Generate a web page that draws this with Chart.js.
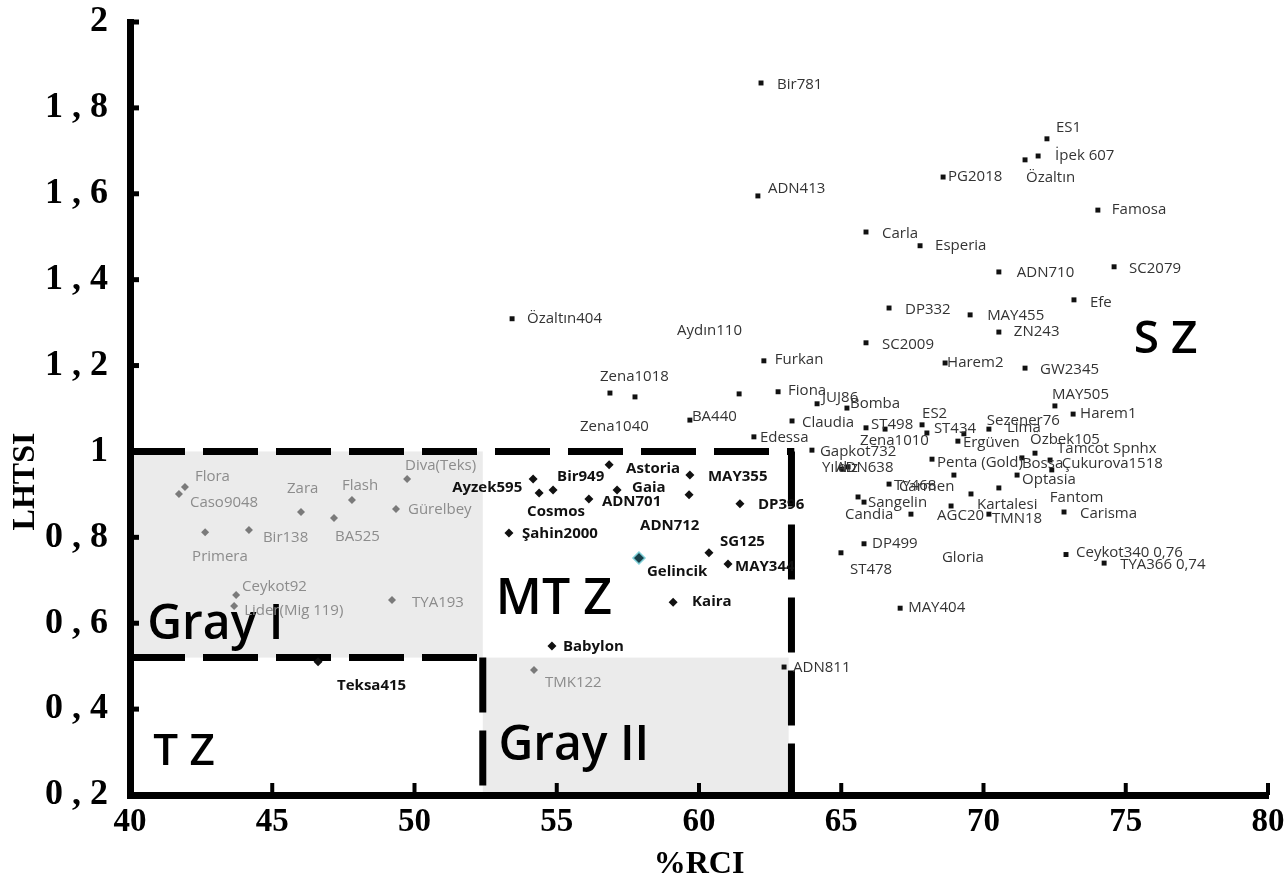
<!DOCTYPE html>
<html>
<head>
<meta charset="utf-8">
<script src="https://cdn.jsdelivr.net/npm/chart.js@4.4.1/dist/chart.umd.min.js"></script>
<style>
  html, body { margin: 0; padding: 0; background: #fff; }
  #wrap { width: 1288px; height: 892px; }
</style>
</head>
<body>
<div id="wrap"><canvas id="chart" width="1288" height="892"></canvas></div>
<script>
// Gray I zone cultivars
const grayNames = ['Flora', 'Caso9048', 'Zara', 'Flash', 'BA525', 'Diva(Teks)', 'Gürelbey', 'Bir138', 'Primera', 'Ceykot92', 'Lider(Mig 119)', 'TYA193', 'TMK122'];
const grayRci   = [41.93, 41.72, 46.01, 47.80, 47.17, 49.74, 49.35, 44.18, 42.64, 43.73, 43.66, 49.21, 54.20];
const grayLhtsi = [0.917, 0.901, 0.859, 0.887, 0.845, 0.936, 0.866, 0.817, 0.812, 0.666, 0.640, 0.654, 0.491];

// MT Z cultivars
const mtzNames = ['Ayzek595', 'Bir949', 'Cosmos', 'Astoria', 'Gaia', 'ADN701', 'MAY355', 'ADN712', 'DP396', 'Şahin2000', 'Gelincik', 'SG125', 'MAY344', 'Kaira', 'Babylon', 'Teksa415'];
const mtzRci   = [54.17, 54.87, 54.38, 56.84, 57.12, 56.13, 59.68, 59.65, 61.44, 53.32, 57.89, 60.35, 61.02, 59.09, 54.83, 46.61];
const mtzLhtsi = [0.936, 0.910, 0.903, 0.969, 0.910, 0.889, 0.945, 0.899, 0.878, 0.810, 0.752, 0.764, 0.738, 0.649, 0.547, 0.510];

// S Z cultivars
const szNames = ['Bir781', 'ADN413', 'ES1', 'İpek 607', 'Özaltın', 'PG2018', 'Famosa', 'Carla', 'Esperia', 'ADN710', 'SC2079', 'Efe', 'DP332', 'MAY455', 'ZN243', 'SC2009', 'Furkan', 'Harem2', 'GW2345', 'Özaltın404', 'Aydın110', 'Zena1018', 'Zena1040', 'BA440', 'Fiona', 'JUJ86', 'Bomba', 'Claudia', 'Edessa', 'Gapkot732', 'ST498', 'Zena1010', 'ES2', 'ST434', 'Sezener76', 'Lima', 'Ergüven', 'Penta (Gold)', 'Carmen', 'TY468', 'ADN638', 'Yıldız', 'Candia', 'Sangelin', 'AGC20', 'Kartalesi', 'TMN18', 'Gloria', 'Optasia', 'Özbek105', 'Tamcot Spnhx', 'Bossa', 'Çukurova1518', 'Fantom', 'Carisma', 'MAY505', 'Harem1', 'Ceykot340 0,76', 'TYA366 0,74', 'DP499', 'ST478', 'MAY404', 'ADN811'];
const szRci   = [62.18, 62.07, 72.23, 71.92, 71.46, 68.58, 74.02, 65.87, 67.77, 70.54, 74.59, 73.18, 66.68, 69.53, 70.54, 65.87, 62.28, 68.65, 71.46, 53.43, 61.41, 56.87, 57.75, 59.68, 62.78, 64.15, 65.20, 63.27, 61.93, 63.97, 65.87, 66.54, 67.84, 68.01, 69.31, 70.19, 69.10, 68.19, 68.96, 66.68, 65.24, 65.03, 65.59, 65.80, 68.86, 69.56, 70.19, 67.45, 71.18, 71.81, 72.34, 71.35, 72.40, 70.54, 72.83, 72.51, 73.15, 72.90, 74.24, 65.80, 64.99, 67.07, 62.99];
const szLhtsi = [1.858, 1.595, 1.728, 1.688, 1.679, 1.639, 1.562, 1.511, 1.479, 1.418, 1.430, 1.353, 1.334, 1.318, 1.278, 1.253, 1.211, 1.206, 1.194, 1.309, 1.134, 1.136, 1.127, 1.073, 1.139, 1.111, 1.101, 1.071, 1.034, 1.003, 1.055, 1.052, 1.062, 1.043, 1.041, 1.052, 1.024, 0.982, 0.945, 0.924, 0.964, 0.959, 0.894, 0.882, 0.873, 0.901, 0.854, 0.854, 0.945, 0.996, 0.980, 0.985, 0.957, 0.915, 0.859, 1.106, 1.087, 0.76, 0.74, 0.785, 0.764, 0.635, 0.498];

// zone boundaries (data units)
const grayOneBox = [40, 52.4, 0.52, 1.0];
const grayTwoBox = [52.4, 63.15, 0.2, 0.52];
const zoneLabels = ['S Z', 'MT Z', 'Gray I', 'T Z', 'Gray II'];
const zoneLabelRci = [76.4, 54.9, 43.0, 41.9, 55.6];
const zoneLabelLhtsi = [1.26, 0.655, 0.595, 0.298, 0.313];

// label nudges in px [dx, dy], default is right of the point
const labelNudge = {
  'Flora': [10, -10], 'Caso9048': [11, 9], 'Zara': [-14, -23], 'Flash': [-10, -14], 'BA525': [1, 19],
  'Diva(Teks)': [-2, -13], 'Gürelbey': [12, 1], 'Bir138': [14, 8], 'Primera': [-13, 25], 'Ceykot92': [6, -8],
  'Lider(Mig 119)': [10, 5], 'TYA193': [20, 3], 'TMK122': [11, 13],
  'Ayzek595': [-81, 9], 'Bir949': [4, -13], 'Cosmos': [-12, 19], 'Astoria': [17, 4], 'Gaia': [15, -2],
  'ADN701': [13, 3], 'MAY355': [18, 2], 'ADN712': [-49, 31], 'DP396': [18, 1], 'Şahin2000': [13, 1],
  'Gelincik': [8, 14], 'SG125': [11, -11], 'MAY344': [7, 3], 'Kaira': [19, 0], 'Babylon': [11, 1], 'Teksa415': [19, 24],
  'Bir781': [16, 2], 'ADN413': [10, -7], 'ES1': [9, -11], 'İpek 607': [17, 0], 'Özaltın': [1, 18], 'PG2018': [5, 0],
  'Famosa': [14, 0], 'Carla': [16, 2], 'Esperia': [15, 0], 'ADN710': [18, 1], 'SC2079': [15, 2], 'Efe': [16, 3],
  'DP332': [16, 2], 'MAY455': [17, 1], 'ZN243': [15, 0], 'SC2009': [16, 2], 'Furkan': [11, -1], 'Harem2': [2, 0],
  'GW2345': [15, 2], 'Özaltın404': [15, 0], 'Aydın110': [-62, -63], 'Zena1018': [-10, -16], 'Zena1040': [-55, 30],
  'BA440': [2, -3], 'Fiona': [10, -1], 'JUJ86': [5, -6], 'Bomba': [3, -4], 'Claudia': [10, 2], 'Edessa': [6, 1],
  'Gapkot732': [8, 2], 'ST498': [5, -3], 'Zena1010': [-25, 12], 'ES2': [0, -11], 'ST434': [7, -4],
  'Sezener76': [23, -13], 'Lima': [18, -1], 'Ergüven': [5, 2], 'Penta (Gold)': [5, 4], 'Carmen': [-55, 12],
  'TY468': [5, 2], 'ADN638': [-12, 1], 'Yıldız': [-20, -1], 'Candia': [-13, 18], 'Sangelin': [4, 1],
  'AGC20': [-14, 10], 'Kartalesi': [6, 11], 'TMN18': [3, 5], 'Gloria': [31, 44], 'Optasia': [5, 5],
  'Özbek105': [-5, -13], 'Tamcot Spnhx': [7, -11], 'Bossa': [0, 6], 'Çukurova1518': [10, -6], 'Fantom': [51, 10],
  'Carisma': [16, 2], 'MAY505': [-3, -11], 'Harem1': [7, 0], 'Ceykot340 0,76': [10, -2], 'TYA366 0,74': [16, 2],
  'DP499': [8, 0], 'ST478': [9, 17], 'MAY404': [8, 0], 'ADN811': [9, 1]
};

function toPoints(xs, ys) {
  return xs.map((x, i) => ({ x: x, y: ys[i] }));
}

// "1,8" style labels, the source sets them wide
const fmtComma = v => String(Math.round(v * 10) / 10).replace('.', ' , ');

const serif = '"Liberation Serif", "Times New Roman", serif';

// gray zones under everything
const zonesPlugin = {
  id: 'zones',
  beforeDraw(chart) {
    const { ctx, scales: { x, y } } = chart;
    ctx.save();
    ctx.fillStyle = '#ebebeb';
    [grayOneBox, grayTwoBox].forEach(b => {
      const x0 = x.getPixelForValue(b[0]), x1 = x.getPixelForValue(b[1]);
      const y0 = y.getPixelForValue(b[3]), y1 = y.getPixelForValue(b[2]);
      ctx.fillRect(x0, y0, x1 - x0, y1 - y0);
    });
    ctx.restore();
  },
  beforeDatasetsDraw(chart) {
    const { ctx, scales: { x, y } } = chart;
    ctx.save();
    // inward tick marks
    ctx.strokeStyle = '#000';
    ctx.lineWidth = 5;
    y.ticks.forEach(t => {
      const py = y.getPixelForValue(t.value);
      ctx.beginPath(); ctx.moveTo(x.left - 2, py); ctx.lineTo(x.left + 9, py); ctx.stroke();
    });
    ctx.lineWidth = 4;
    x.ticks.forEach(t => {
      const px = x.getPixelForValue(t.value);
      ctx.beginPath(); ctx.moveTo(px, y.bottom); ctx.lineTo(px, y.bottom - 12); ctx.stroke();
    });
    // dashed zone borders
    ctx.lineWidth = 7;
    ctx.setLineDash([55, 18]);
    const line = (xa, ya, xb, yb) => {
      ctx.beginPath();
      ctx.moveTo(x.getPixelForValue(xa), y.getPixelForValue(ya));
      ctx.lineTo(x.getPixelForValue(xb), y.getPixelForValue(yb));
      ctx.stroke();
    };
    line(40, 1.0, grayTwoBox[1] + 0.2, 1.0);
    line(grayTwoBox[1] + 0.1, 1.0, grayTwoBox[1] + 0.1, 0.2);
    line(40, 0.52, grayOneBox[1], 0.52);
    line(grayOneBox[1], 0.52, grayOneBox[1], 0.2);
    ctx.setLineDash([]);
    // zone names
    ctx.fillStyle = '#000';
    ctx.textAlign = 'center';
    ctx.textBaseline = 'middle';
    const sizes = [46, 50, 48, 44, 48];
    zoneLabels.forEach((t, i) => {
      ctx.font = '600 ' + sizes[i] + 'px "Open Sans"';
      ctx.fillText(t, x.getPixelForValue(zoneLabelRci[i]), y.getPixelForValue(zoneLabelLhtsi[i]));
    });
    // y axis title, sits lower than the axis middle in the source
    ctx.save();
    ctx.translate(26, y.getPixelForValue(0.93));
    ctx.rotate(-Math.PI / 2);
    ctx.font = 'bold 32px ' + serif;
    ctx.fillText('LHTSI', 0, 0);
    ctx.restore();
    ctx.restore();
  }
};

// cultivar names next to the points
const namesPlugin = {
  id: 'names',
  afterDatasetsDraw(chart) {
    const { ctx } = chart;
    ctx.save();
    ctx.textBaseline = 'middle';
    ctx.textAlign = 'left';
    chart.data.datasets.forEach((ds, di) => {
      const meta = chart.getDatasetMeta(di);
      ctx.font = ds.labelFont;
      ctx.fillStyle = ds.labelColor;
      meta.data.forEach((pt, i) => {
        const name = ds.names[i];
        const n = labelNudge[name] || [10, 0];
        ctx.fillText(name, pt.x + n[0], pt.y + n[1]);
      });
    });
    ctx.restore();
  }
};

new Chart(document.getElementById('chart'), {
  type: 'scatter',
  data: {
    datasets: [
      {
        names: grayNames,
        data: toPoints(grayRci, grayLhtsi),
        pointStyle: 'rectRot',
        pointRadius: 4,
        backgroundColor: '#7a7a7a',
        borderColor: '#7a7a7a',
        borderWidth: 0,
        labelFont: '15px "Open Sans"',
        labelColor: '#8c8c8c'
      },
      {
        names: mtzNames,
        data: toPoints(mtzRci, mtzLhtsi),
        pointStyle: 'rectRot',
        pointRadius: ctx => mtzNames[ctx.dataIndex] === 'Gelincik' ? 6 : 4.5,
        backgroundColor: ctx => mtzNames[ctx.dataIndex] === 'Gelincik' ? '#17404a' : '#111',
        borderColor: ctx => mtzNames[ctx.dataIndex] === 'Gelincik' ? '#7fd0d8' : '#111',
        borderWidth: ctx => mtzNames[ctx.dataIndex] === 'Gelincik' ? 1.5 : 0,
        labelFont: 'bold 15px "Open Sans"',
        labelColor: '#111'
      },
      {
        names: szNames,
        data: toPoints(szRci, szLhtsi),
        pointStyle: 'rect',
        pointRadius: 3.5,
        backgroundColor: '#111',
        borderColor: '#111',
        borderWidth: 0,
        labelFont: '15px "Open Sans"',
        labelColor: '#333'
      }
    ]
  },
  options: {
    responsive: false,
    animation: false,
    events: [],
    layout: { padding: { top: 22, right: 20, left: 0, bottom: 0 } },
    plugins: { legend: { display: false }, tooltip: { enabled: false } },
    scales: {
      x: {
        type: 'linear',
        min: 40,
        max: 80,
        ticks: { stepSize: 5, color: '#000', font: { family: serif, weight: 'bold', size: 33 }, padding: 0, maxRotation: 0 },
        grid: { display: false },
        border: { display: true, color: '#000', width: 7 },
        title: { display: true, text: '%RCI', color: '#000', font: { family: serif, weight: 'bold', size: 32 }, padding: { top: 0, bottom: 8 } },
        afterFit: s => { s.height = 97; }
      },
      y: {
        type: 'linear',
        min: 0.2,
        max: 2,
        ticks: { stepSize: 0.2, color: '#000', font: { family: serif, weight: 'bold', size: 36, lineHeight: 0.01 }, padding: 14, callback: v => fmtComma(v) },
        grid: { display: false },
        border: { display: true, color: '#000', width: 7 },
        afterFit: s => { s.width = 130; }
      }
    }
  },
  plugins: [zonesPlugin, namesPlugin]
});
</script>
</body>
</html>
